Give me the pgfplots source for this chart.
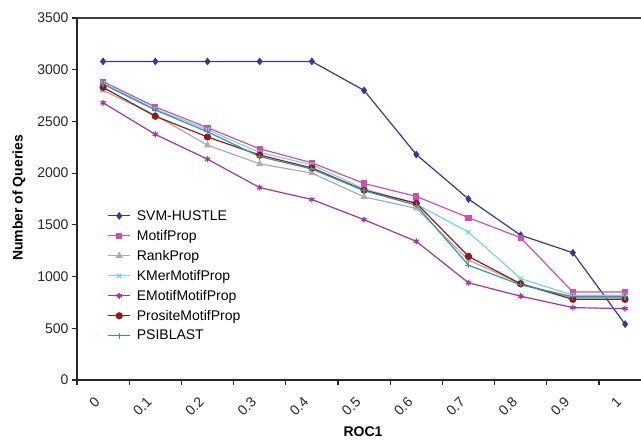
\documentclass[border=0pt]{standalone}
\usepackage{pgfplots}
\pgfplotsset{compat=1.18}
\usepackage{fontspec}
\setmainfont{Liberation Sans}

\definecolor{svm}{RGB}{55,55,150}
\definecolor{motif}{RGB}{205,80,175}
\definecolor{rank}{RGB}{172,172,172}
\definecolor{kmer}{RGB}{120,210,232}
\definecolor{emotif}{RGB}{155,55,165}
\definecolor{prosite}{RGB}{150,25,25}
\definecolor{psi}{RGB}{55,150,158}

\begin{document}
\begin{tikzpicture}
\begin{axis}[
  name=ax,
  at={(0,0)}, anchor=south west,
  scale only axis,
  width=564bp, height=362bp,
  xmin=-0.5, xmax=10.305,
  ymin=0, ymax=3500,
  axis x line=bottom, axis y line=left,
  axis line style={-, line width=1.3bp, black!85},
  xtick={0,...,10},
  xticklabels={0,0.1,0.2,0.3,0.4,0.5,0.6,0.7,0.8,0.9,1},
  major x tick style={draw=none},
  minor xtick={-0.5,0.5,1.5,2.5,3.5,4.5,5.5,6.5,7.5,8.5,9.5},
  minor x tick style={line width=1.1bp, black!85},
  ytick={0,500,...,3500},
  y tick style={line width=1.1bp, black!85},
  tick align=outside,
  major tick length=5bp, minor tick length=5bp,
  /pgf/number format/assume math mode=true,
  /pgf/number format/1000 sep={},
  tick label style={font=\fontsize{14bp}{16bp}\selectfont, text=black!85},
  xticklabel style={xshift=-3.5bp, yshift=-12bp, rotate=45, anchor=east},
  xlabel={ROC1},
  ylabel={Number of Queries},
  every axis x label/.style={at={(axis description cs:0.507,-0.143)}, anchor=center,
    font=\fontsize{14bp}{16bp}\selectfont\bfseries},
  every axis y label/.style={at={(axis description cs:-0.103,0.503)}, rotate=90, anchor=center,
    font=\fontsize{14bp}{16bp}\selectfont\bfseries},
  legend style={at={(axis description cs:0.054,0.475)}, anchor=north west,
    draw=none, fill=none, font=\fontsize{14bp}{16bp}\selectfont,
    row sep=4.4bp, inner sep=0pt,
    /tikz/every odd column/.append style={column sep=4bp}},
  legend cell align=left,
  legend image code/.code={%
    \draw[mark repeat=2,mark phase=2] plot coordinates {(0bp,0bp) (11bp,0bp) (22bp,0bp)};},
  every axis plot/.append style={line width=1.2bp},
  clip=false,
]
\addplot[color=svm, mark=diamond*, mark size=3bp, mark options={fill=svm}] coordinates {
(0,3080) (1,3080) (2,3080) (3,3080) (4,3080) (5,2800) (6,2180) (7,1750) (8,1400) (9,1230) (10,540)};
\addlegendentry{SVM-HUSTLE}
\addplot[color=motif, mark=square*, mark size=2.5bp] coordinates {
(0,2885) (1,2640) (2,2440) (3,2235) (4,2100) (5,1900) (6,1775) (7,1570) (8,1375) (9,850) (10,850)};
\addlegendentry{MotifProp}
\addplot[color=rank, mark=triangle*, mark size=3bp] coordinates {
(0,2800) (1,2560) (2,2270) (3,2090) (4,2000) (5,1770) (6,1660) (7,1160) (8,930) (9,795) (10,795)};
\addlegendentry{RankProp}
\addplot[color=kmer, mark=x, mark size=3bp] coordinates {
(0,2870) (1,2620) (2,2420) (3,2200) (4,2080) (5,1850) (6,1700) (7,1430) (8,980) (9,820) (10,820)};
\addlegendentry{KMerMotifProp}
\addplot[color=emotif, mark=asterisk, mark size=3bp] coordinates {
(0,2680) (1,2375) (2,2135) (3,1860) (4,1745) (5,1550) (6,1340) (7,940) (8,810) (9,700) (10,690)};
\addlegendentry{EMotifMotifProp}
\addplot[color=prosite, mark=*, mark size=3bp] coordinates {
(0,2830) (1,2550) (2,2350) (3,2175) (4,2050) (5,1835) (6,1710) (7,1195) (8,930) (9,780) (10,780)};
\addlegendentry{PrositeMotifProp}
\addplot[color=psi, mark=+, mark size=3bp] coordinates {
(0,2860) (1,2610) (2,2400) (3,2160) (4,2040) (5,1830) (6,1690) (7,1110) (8,920) (9,805) (10,805)};
\addlegendentry{PSIBLAST}
\end{axis}
\draw[line width=1.6bp, black!75] (ax.north west) -- (ax.north east);
\pgfresetboundingbox
\path[use as bounding box] (-77bp,-60bp) rectangle (564bp,380bp);
\end{tikzpicture}
\end{document}
